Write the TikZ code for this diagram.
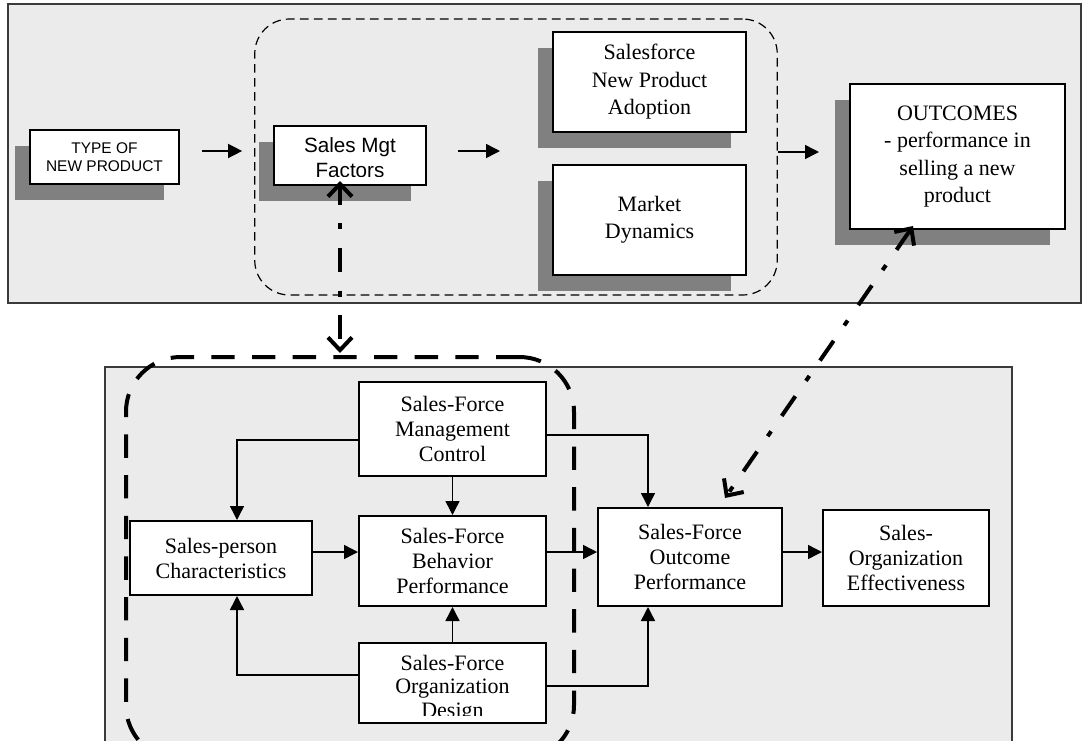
\documentclass[tikz,border=0pt]{standalone}
\usepackage{fontspec}
\setmainfont{Liberation Serif}
\newfontfamily\arialfont{Liberation Sans}
\usetikzlibrary{arrows.meta,calc,shadows}
\definecolor{panelgray}{HTML}{EBEBEB}
\definecolor{shadegray}{HTML}{808080}
\definecolor{rulegray}{HTML}{3A3A3A}

\tikzset{
  panel/.style={draw=rulegray, fill=panelgray, line width=1.4pt},
  shadowed/.style={drop shadow={shadow xshift=-11.25pt, shadow yshift=-12pt, fill=shadegray, opacity=1}},
  box/.style={draw, fill=white, line width=1.5pt, inner sep=0pt, align=center},
  sz/.style 2 args={minimum width=#1*0.75pt, minimum height=#2*0.75pt},
  serifbig/.style={font=\fontsize{16.5pt}{20.6pt}\selectfont},
  seriflow/.style={font=\fontsize{16.5pt}{18.75pt}\selectfont},
  flow/.style={line width=1.1pt, -{Triangle[length=10.5pt,width=10.5pt]}},
  link/.style={line width=3pt, dash pattern=on 18pt off 14pt on 4.5pt off 14pt,
    {Straight Barb[length=9.5pt,width=18pt]}-{Straight Barb[length=9.5pt,width=18pt]}},
  group/.style={draw, line width=0.9pt, dash pattern=on 6.5pt off 4pt, rounded corners=26pt, inner sep=0pt},
  core/.style={draw, line width=3pt, dash pattern=on 17.5pt off 13pt, rounded corners=41pt, inner sep=0pt},
  boxtext/.style={inner sep=0pt, align=center, text depth=0pt},
}

\begin{document}
\begin{tikzpicture}[x=0.75pt,y=-0.75pt]
\path[use as bounding box] (0,0) rectangle (1083,740);
\clip (0,0) rectangle (1083,740);

% panels
\draw[panel] (8,4) rectangle (1081,303);
\draw[panel] (105,367) rectangle (1012,770);

% grouping outlines
\node[group, sz={522.5}{276}] (grp) at (516,157) {};
\node[core, sz={448}{403}] (core) at (350,558.5) {};

% upper row
\node[box, shadowed, sz={149}{54.5}, font=\arialfont\fontsize{11.6pt}{13.5pt}\selectfont]
  (type) at (104.5,157) {TYPE OF\\NEW PRODUCT};
\node[box, shadowed, sz={152}{59}] (mgt) at (350,155.5) {};
\node[boxtext, font=\arialfont\fontsize{15.5pt}{18.75pt}\selectfont]
  (mgttext) at (350,158) {Sales Mgt\\Factors};
\node[box, shadowed, sz={193}{100}, serifbig] (adopt) at (649.5,82) {Salesforce\\New Product\\Adoption};
\node[box, shadowed, sz={193}{110}, serifbig] (market) at (649.5,220) {Market\\Dynamics};
\node[box, shadowed, sz={215}{145}, serifbig] (outc) at (957.5,156.5)
  {OUTCOMES\\- performance in\\selling a new\\product};

% lower model
\node[box, sz={187}{94}, seriflow] (smc) at (452.5,429) {Sales-Force\\Management\\Control};
\node[box, sz={182}{74}, seriflow] (spc) at (221,558) {Sales-person\\Characteristics};
\node[box, sz={187}{90}, seriflow] (sfb) at (452.5,561) {Sales-Force\\Behavior\\Performance};
\node[box, sz={187}{80}] (sfo) at (452.5,683) {};
\node[boxtext, font=\fontsize{16.5pt}{17.6pt}\selectfont]
  (sfotext) at (452.5,686) {Sales-Force\\Organization\\Design};
\node[box, sz={184}{98}, seriflow] (sfop) at (690,557) {Sales-Force\\Outcome\\Performance};
\node[box, sz={166}{96}, seriflow] (soe) at (906,558) {Sales-\\Organization\\Effectiveness};

% text frames cut the last line short (kept inside the border)
\fill[white] ($(mgt.south west)+(2.2,-2.2)$) rectangle ($(mgt.south east)+(-2.2,-9)$);
\fill[white] ($(sfo.south west)+(2.2,-2.2)$) rectangle ($(sfo.south east)+(-2.2,-8.5)$);

% upper flow
\draw[flow] ($(type.east)+(22,-6)$) -- ($(grp.west)+(-12,-6)$);
\draw[flow] ($(mgt.east)+(31,-4.5)$) -- ($(mgt.east)+(73,-4.5)$);
\draw[flow] ($(grp.east)+(0,-5)$) -- ($(outc.west)+(-30,-4.5)$);

% lower flow
\draw[flow] ($(smc.west)+(0,11)$) -| ($(spc.north)+(16,0)$);
\draw[flow] (smc.south) -- (sfb.north);
\draw[flow] ($(smc.east)+(0,6)$) -| ($(sfop.north)+(-42,0)$);
\draw[flow] ($(spc.east)+(0,-6)$) -- ($(sfb.west)+(0,-9)$);
\draw[flow] ($(sfb.east)+(0,-9)$) -- ($(sfop.west)+(0,-5)$);
\draw[flow] ($(sfo.west)+(0,-8)$) -| ($(spc.south)+(16,0)$);
\draw[flow] (sfo.north) -- (sfb.south);
\draw[flow] ($(sfo.east)+(0,3)$) -| ($(sfop.south)+(-42,0)$);
\draw[flow] ($(sfop.east)+(0,-5)$) -- ($(soe.west)+(0,-6)$);

% links between the two models
\draw[link, dash phase=4pt] ($(mgt.south)+(-10,-5)$) -- ($(core.north)+(-10,-2)$);
\draw[link] ($(outc.south)+(-44.5,-4)$) -- ($(sfop.north)+(35,-9)$);
\end{tikzpicture}
\end{document}
